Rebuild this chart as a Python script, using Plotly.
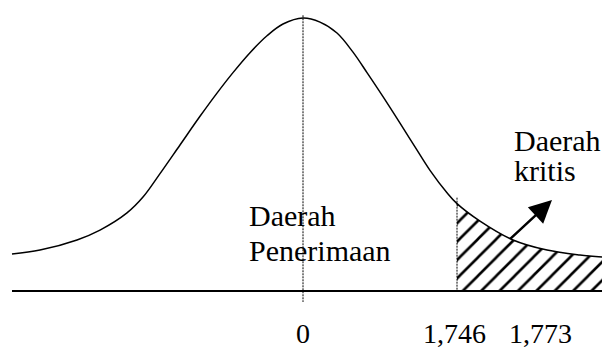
import plotly.graph_objects as go

# Curve: x in standard-deviation units (0 at the centre),
# y as height relative to the peak (baseline = 0, peak = 1)
curve_x = [-2.91, -2.63, -2.26, -2.03, -1.76, -1.60, -1.43, -1.23, -1.03, -0.86,
           -0.70, -0.53, -0.36, -0.20, 0.00, 0.17, 0.34, 0.50, 0.64, 0.80,
           0.97, 1.12, 1.27, 1.44, 1.54, 1.77, 2.10, 2.44, 2.77, 2.99]
curve_y = [0.136, 0.150, 0.187, 0.223, 0.286, 0.344, 0.430, 0.535, 0.640, 0.725,
           0.800, 0.873, 0.935, 0.978, 1.000, 0.985, 0.945, 0.875, 0.800, 0.712,
           0.615, 0.528, 0.442, 0.360, 0.320, 0.256, 0.187, 0.150, 0.132, 0.125]

critical_x = 1.54          # position of the critical boundary in the drawing
tick_positions = [0.0, 1.51, 2.37]
tick_labels = ["0", "1,746", "1,773"]

accept_label = ["Daerah", "Penerimaan"]
critical_label = ["Daerah", "kritis"]

FONT = "'Liberation Serif', 'Times New Roman', Times, serif"

fig = go.Figure()

# hatched critical region
crit_x = [x for x in curve_x if x >= critical_x]
crit_y = [y for x, y in zip(curve_x, curve_y) if x >= critical_x]
fig.add_trace(go.Scatter(
    x=crit_x, y=crit_y, mode="lines", line=dict(width=0, shape="spline"),
    fill="tozeroy", fillcolor="rgba(0,0,0,0)",
    fillpattern=dict(shape="/", size=13, solidity=0.2, fgcolor="black",
                     bgcolor="white", fgopacity=1),
    hoverinfo="skip"))

# baseline
fig.add_trace(go.Scatter(x=[curve_x[0], curve_x[-1]], y=[0, 0], mode="lines",
                         line=dict(color="black", width=2), hoverinfo="skip"))

# normal curve
fig.add_trace(go.Scatter(x=curve_x, y=curve_y, mode="lines",
                         line=dict(color="black", width=1.5, shape="spline", smoothing=1),
                         hoverinfo="skip"))

# dashed centre line and critical line
fig.add_trace(go.Scatter(x=[0, 0], y=[1.01, -0.04], mode="lines",
                         line=dict(color="black", width=1, dash="2px,1px"),
                         hoverinfo="skip"))
crit_top = crit_y[0] + 0.022
fig.add_trace(go.Scatter(x=[critical_x, critical_x], y=[crit_top, 0], mode="lines",
                         line=dict(color="black", width=1, dash="2px,1px"),
                         hoverinfo="skip"))

annotations = []
# tick labels
for xv, lab in zip(tick_positions, tick_labels):
    annotations.append(dict(x=xv, y=-0.154, text=lab, showarrow=False,
                            xanchor="center", yanchor="middle",
                            font=dict(family=FONT, size=28, color="black")))
# acceptance region label
for i, line in enumerate(accept_label):
    annotations.append(dict(x=-0.56, y=[0.275, 0.147][i], text=line, showarrow=False,
                            xanchor="left", yanchor="middle",
                            font=dict(family=FONT, size=30, color="black")))
# critical region label
for i, line in enumerate(critical_label):
    annotations.append(dict(x=2.09, y=[0.553, 0.44][i], text=line, showarrow=False,
                            xanchor="left", yanchor="middle",
                            font=dict(family=FONT, size=30, color="black")))
# arrow
annotations.append(dict(x=2.49, y=0.333, ax=2.06, ay=0.187, axref="x", ayref="y",
                        xref="x", yref="y", text="", showarrow=True,
                        arrowhead=2, arrowsize=1.8, arrowwidth=2.5, arrowcolor="black"))

fig.update_layout(
    width=602, height=350,
    margin=dict(l=0, r=0, t=0, b=0),
    paper_bgcolor="white", plot_bgcolor="white",
    showlegend=False,
    xaxis=dict(range=[-3.03, 2.99], visible=False, fixedrange=True),
    yaxis=dict(range=[-0.216, 1.066], visible=False, fixedrange=True),
    annotations=annotations,
)

fig.write_html("out.html", config={"displayModeBar": False},
               post_script="document.body.style.margin='0px';")
